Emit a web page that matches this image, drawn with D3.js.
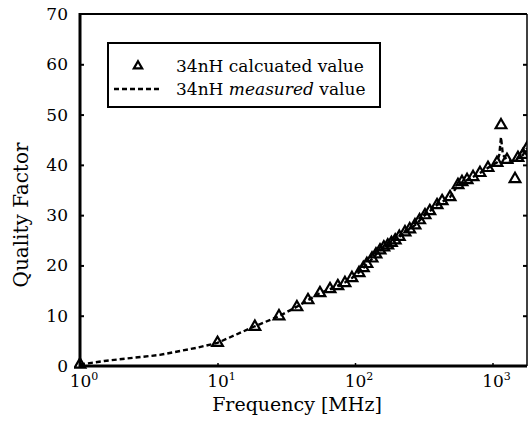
<!DOCTYPE html>
<html lang="en">
<head>
    <meta charset="UTF-8">
    <title>Quality Factor vs Frequency</title>
    <style>
        body { margin: 0; background: #fff; }
        svg text { font-family: "DejaVu Serif", "Liberation Serif", serif; fill: #000; }
        .frame { fill: none; stroke: #000; }
        .measured { fill: none; stroke: #000; stroke-width: 2.4px; stroke-dasharray: 5,3; }
        .calc { fill: none; stroke: #000; stroke-width: 2.2px; }
    </style>
    <script src="https://d3js.org/d3.v7.min.js"></script>
</head>
<body>
    <div id="chart"></div>
    <script>
        // calculated values (triangles), frequency in MHz
        const calcFreq = [1, 10, 18.7, 28, 37.8, 45.5, 55.6, 65.8, 75, 84.5, 95, 107, 115, 122, 133, 142, 152, 162, 173, 184, 196, 210, 231, 250, 273, 295, 323, 350, 395, 430, 491, 561, 600, 653, 722, 811, 927, 1078, 1153, 1274, 1458, 1531, 1667, 1782];
        const calcQ = [0.3, 4.6, 7.8, 9.9, 11.7, 13.1, 14.5, 15.3, 15.9, 16.5, 17.5, 18.5, 19.5, 20.3, 21.4, 22.2, 23, 23.6, 24, 24.5, 25, 25.7, 26.6, 27.2, 28, 29, 30, 30.8, 32, 32.8, 33.6, 36, 36.6, 37, 37.6, 38.4, 39.4, 40.4, 47.9, 41, 37.2, 41.4, 42, 43.3];

        // measured values (dashed line)
        const measFreq = [1, 1.5, 3.8, 7, 10, 18.7, 28, 37.8, 45.5, 55.6, 65.8, 75, 84.5, 95, 107, 133, 152, 196, 231, 273, 323, 395, 491, 561, 653, 722, 811, 927, 1078, 1120, 1153, 1190, 1274, 1458, 1531, 1667, 1782];
        const measQ = [0.3, 1.0, 2.2, 3.6, 4.6, 7.9, 9.9, 11.8, 13.1, 14.5, 15.3, 16, 16.6, 17.5, 18.6, 21.3, 23, 25, 26.6, 28, 30, 32, 33.6, 36, 37, 37.6, 38.4, 39.4, 40.5, 42, 45.5, 42, 41, 40.5, 41.4, 42, 43.3];

        const yTicks = [0, 10, 20, 30, 40, 50, 60, 70];
        const xTicks = [1, 10, 100, 1000];
        const xTickExp = ["0", "1", "2", "3"];

        const width = 528, height = 423;
        const pLeft = 80, pRight = 527, pTop = 14, pBottom = 366;

        const svg = d3.select("#chart").append("svg")
            .attr("width", width)
            .attr("height", height);

        const x = d3.scaleLog().domain([1, 1782]).range([pLeft, pRight]);
        const y = d3.scaleLinear().domain([0, 70]).range([pBottom, pTop]);

        svg.append("clipPath").attr("id", "plotclip")
            .append("rect")
            .attr("x", pLeft - 6).attr("y", pTop)
            .attr("width", pRight - pLeft + 6).attr("height", pBottom - pTop + 6);

        // frame
        svg.append("line").attr("class", "frame")
            .attr("x1", pLeft).attr("x2", pRight).attr("y1", pTop).attr("y2", pTop)
            .attr("stroke-width", 2);
        svg.append("line").attr("class", "frame")
            .attr("x1", pRight).attr("x2", pRight).attr("y1", pTop).attr("y2", pBottom)
            .attr("stroke-width", 1.5);

        // y axis (left), ticks pointing inward
        const yAxis = svg.append("g")
            .attr("transform", `translate(${pLeft},0)`)
            .call(d3.axisRight(y).tickValues(yTicks.slice(1, -1)).tickSize(4).tickFormat(""));
        yAxis.select(".domain").remove();
        yAxis.selectAll(".tick line").attr("stroke-width", 2);

        svg.selectAll(".ylab")
            .data(yTicks)
            .enter().append("text")
            .attr("class", "ylab")
            .attr("x", pLeft - 12)
            .attr("y", d => y(d) + 6)
            .attr("text-anchor", "end")
            .style("font-size", "17px")
            .text(d => d);

        // right axis ticks
        const rAxis = svg.append("g")
            .attr("transform", `translate(${pRight},0)`)
            .call(d3.axisLeft(y).tickValues(yTicks.slice(1, -1)).tickSize(4).tickFormat(""));
        rAxis.select(".domain").remove();
        rAxis.selectAll(".tick line").attr("stroke-width", 2);

        // x axis ticks (pointing up)
        const xAxis = svg.append("g")
            .attr("transform", `translate(0,${pBottom})`)
            .call(d3.axisTop(x).tickValues(xTicks).tickSize(3).tickFormat(""));
        xAxis.select(".domain").remove();
        xAxis.selectAll(".tick line").attr("stroke-width", 1.5);

        const xl = svg.selectAll(".xlab")
            .data(xTicks)
            .enter().append("text")
            .attr("class", "xlab")
            .attr("x", d => x(d) + 4)
            .attr("y", pBottom + 21)
            .attr("text-anchor", "middle")
            .style("font-size", "17px");
        xl.append("tspan").text("10");
        xl.append("tspan")
            .attr("dy", -7)
            .style("font-size", "11px")
            .text((d, i) => xTickExp[i]);

        // left and bottom axis lines (thick)
        svg.append("line").attr("class", "frame")
            .attr("x1", pLeft).attr("x2", pLeft).attr("y1", pTop - 1).attr("y2", pBottom + 1)
            .attr("stroke-width", 3);
        svg.append("line").attr("class", "frame")
            .attr("x1", pLeft - 1).attr("x2", pRight).attr("y1", pBottom).attr("y2", pBottom)
            .attr("stroke-width", 3);

        // axis titles
        svg.append("text")
            .attr("x", 297)
            .attr("y", 411)
            .attr("text-anchor", "middle")
            .style("font-size", "19px")
            .text("Frequency [MHz]");

        svg.append("text")
            .attr("transform", "translate(28,215) rotate(-90)")
            .attr("text-anchor", "middle")
            .style("font-size", "20px")
            .text("Quality Factor");

        // measured line
        const meas = measFreq.map((f, i) => [f, measQ[i]]);
        const line = d3.line().x(d => x(d[0])).y(d => y(d[1]));
        svg.append("path")
            .datum(meas)
            .attr("class", "measured")
            .attr("clip-path", "url(#plotclip)")
            .attr("d", line);

        // calculated triangles
        const calc = calcFreq.map((f, i) => [f, calcQ[i]]);
        const tri = d3.symbol().type(d3.symbolTriangle).size(50);
        svg.append("g")
            .attr("clip-path", "url(#plotclip)")
            .selectAll("path")
            .data(calc)
            .enter().append("path")
            .attr("class", "calc")
            .attr("transform", d => `translate(${x(d[0])},${y(d[1])})`)
            .attr("d", tri);

        // legend
        const lg = svg.append("g");
        lg.append("rect")
            .attr("x", 108).attr("y", 43)
            .attr("width", 272).attr("height", 64)
            .attr("fill", "#fff")
            .attr("stroke", "#000")
            .attr("stroke-width", 2);
        lg.append("path")
            .attr("class", "calc")
            .attr("transform", "translate(138,66)")
            .attr("d", d3.symbol().type(d3.symbolTriangle).size(30));
        lg.append("line")
            .attr("class", "measured")
            .attr("x1", 114).attr("x2", 162)
            .attr("y1", 89).attr("y2", 89);
        lg.append("text")
            .attr("x", 176).attr("y", 72)
            .style("font-size", "17px")
            .text("34nH calcuated value");
        const t2 = lg.append("text")
            .attr("x", 176).attr("y", 95)
            .style("font-size", "17px");
        t2.append("tspan").text("34nH ");
        t2.append("tspan").style("font-style", "italic").text("measured");
        t2.append("tspan").text(" value");
    </script>
</body>
</html>
